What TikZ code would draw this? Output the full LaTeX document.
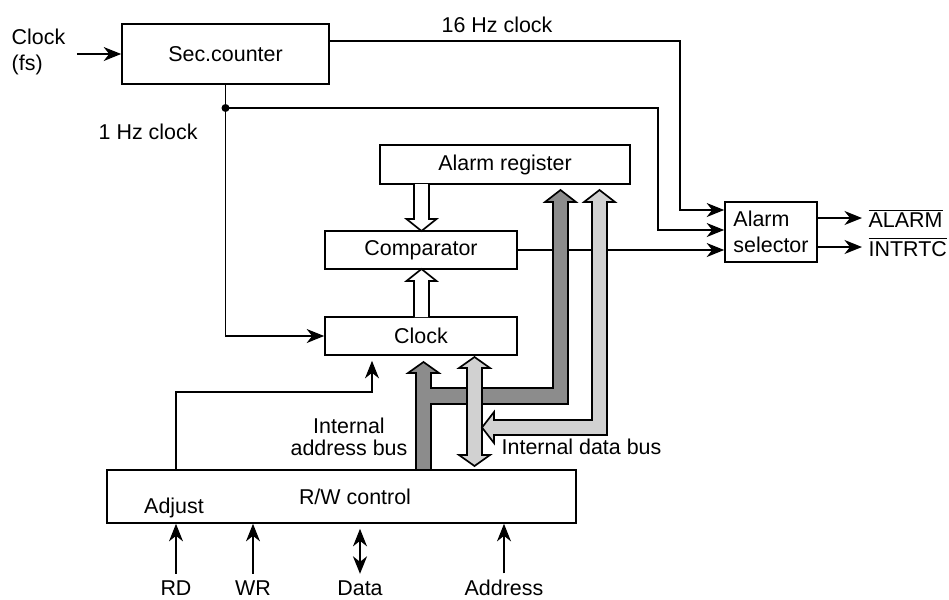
\documentclass[tikz,border=0pt]{standalone}
\usepackage{fontspec}
\setmainfont{Liberation Sans}
\usetikzlibrary{arrows.meta,calc,positioning}

\begin{document}
\begin{tikzpicture}[>={Stealth[length=3.5mm,width=2.8mm,inset=1.1mm]},x=0.2mm,y=-0.2mm,
  line width=0.95pt,font=\fontsize{12.2}{14.8}\selectfont,
  blk/.style={draw,inner sep=0pt},
  busdark/.style={draw,fill=black!45,line join=miter},
  buslight/.style={draw,fill=black!18,line join=miter},
  busopen/.style={draw,fill=white,line join=miter}]
  \useasboundingbox (0,0) rectangle (949,599);

  % blocks
  \node[blk,minimum width=4.14cm,minimum height=1.2cm] (sec) at (225.5,54) {Sec.counter};
  \node[blk,minimum width=5.0cm,minimum height=0.78cm] (alreg) at (505,164.5) {Alarm register};
  \node[blk,minimum width=3.84cm,minimum height=0.76cm] (comp) at (421,250) {Comparator};
  \node[blk,minimum width=3.84cm,minimum height=0.76cm] (clk) at (421,336) {Clock};
  \node[blk,minimum width=1.84cm,minimum height=1.2cm,align=left] (alsel) at (771,232) {Alarm\\selector};
  \node[blk,minimum width=9.38cm,minimum height=1.06cm] (rw) at (341.5,496.5) {};
  \node (rwlbl) at (355,497) {R/W control};
  \node (adjlbl) at (174,508) {Adjust};

  % labels
  \node[align=left,anchor=west] (fs) at (5,52) {Clock\\(fs)};
  \node (hz16) at (497,25) {16 Hz clock};
  \node[anchor=west] (hz1) at (92,132) {1 Hz clock};
  \node[align=center,font=\fontsize{12.2}{12.4}\selectfont] (abus) at (349,437) {Internal\\address bus};
  \node[anchor=west] (dbus) at (495,447) {Internal data bus};
  \node[anchor=west] (alarm) at (862,218) {$\overline{\mbox{ALARM}}$};
  \node[anchor=west] (intrtc) at (862,247) {$\overline{\mbox{INTRTC}}$};

  % clock lines
  \draw[->] ([xshift=1mm]fs.east |- sec.west) -- (sec.west);
  \coordinate (b16) at (680,41);
  \draw[->] ([yshift=0.26cm]sec.east) -- (b16) |- ([yshift=0.44cm]alsel.west);
  \coordinate (j1) at (225.5,108);
  \draw (sec.south) -- (j1);
  \fill (j1) circle (0.08cm);
  \coordinate (b1) at (658,108);
  \draw[->] (j1) -- (b1) |- ([yshift=0.04cm]alsel.west);
  \draw[->] (j1) |- (clk.west);
  \draw[->] (comp.east) -- (comp.east -| alsel.west);
  \draw[->] ([yshift=0.28cm]alsel.east) -- (alarm.west);
  \draw[->] ([yshift=-0.3cm]alsel.east) -- (intrtc.west);

  % adjust
  \coordinate (adj) at (176,470);
  \draw[->] (adj) -- ++(0,-78) -| ([xshift=-0.98cm,yshift=-0.1cm]clk.south);

  % open arrows
  \draw[busopen] (414,184) -- (414,219) -- (406.5,219) -- (421.5,231) -- (436.5,219) -- (429,219) -- (429,184);
  \draw[busopen] (414,317) -- (414,281) -- (406.5,281) -- (421.5,269) -- (436.5,281) -- (429,281) -- (429,317);

  % internal buses
  \draw[busdark] (416,470) -- (416,373) -- (408,373) -- (423.5,362) -- (439,373) -- (431,373)
    -- (431,388) -- (553,388) -- (553,202) -- (545,202) -- (560.5,190) -- (576,202) -- (568,202)
    -- (568,404) -- (431,404) -- (431,470) -- cycle;
  \draw[buslight] (467,368) -- (459,368) -- (474.5,357) -- (490,368) -- (482,368) -- (482,455)
    -- (490,455) -- (474.5,466) -- (459,455) -- (467,455) -- cycle;
  \draw[buslight] (482,427.5) -- (494,412) -- (494,420) -- (592,420) -- (592,202) -- (584,202)
    -- (599.5,190) -- (615,202) -- (607,202) -- (607,435) -- (494,435) -- (494,443) -- cycle;

  % external pins
  \node (rd) at (176,588) {RD};
  \node (wr) at (253,588) {WR};
  \node (data) at (360,588) {Data};
  \node (addr) at (504,588) {Address};
  \draw[->] (rd.north) -- (rd.north |- rw.south);
  \draw[->] (wr.north) -- (wr.north |- rw.south);
  \draw[<->] (data.north) -- ([yshift=-0.1cm]data.north |- rw.south);
  \draw[->] (addr.north) -- (addr.north |- rw.south);
\end{tikzpicture}
\end{document}
